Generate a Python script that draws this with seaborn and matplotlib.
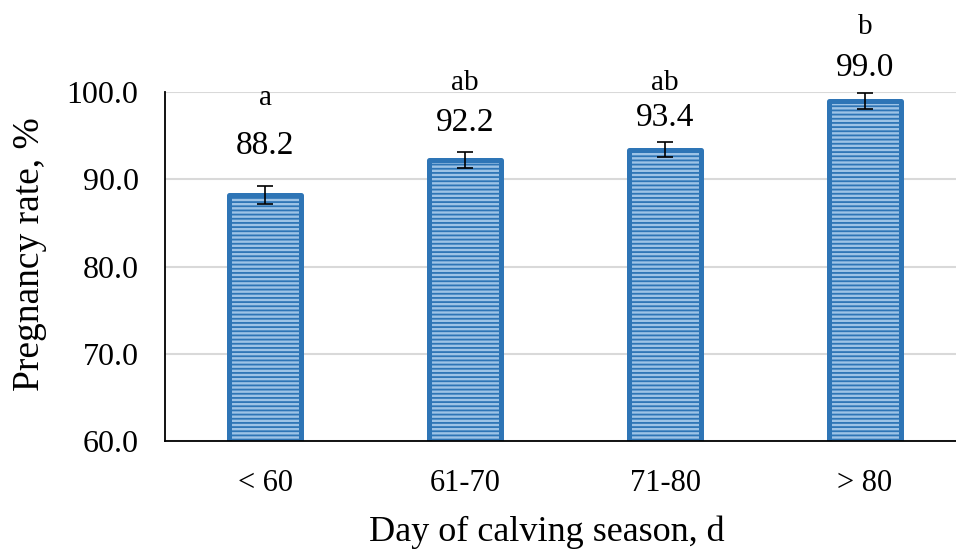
import matplotlib
matplotlib.use("Agg")
import matplotlib.pyplot as plt
import seaborn as sns
import pandas as pd

categories = ["< 60", "61-70", "71-80", "> 80"]
values = [88.2, 92.2, 93.4, 99.0]
errors = [1.0, 0.9, 0.9, 0.9]
letters = ["a", "ab", "ab", "b"]
value_label_y = [93.8, 96.5, 97.1, 102.8]
letter_label_y = [99.3, 101.0, 101.0, 107.4]
yticks = [60, 70, 80, 90, 100]

sns.set_theme(style="white")
plt.rcParams["font.family"] = ["Liberation Serif", "DejaVu Serif"]
plt.rcParams["hatch.linewidth"] = 1.3
plt.rcParams["text.color"] = "black"
plt.rcParams["axes.labelcolor"] = "black"
plt.rcParams["xtick.color"] = "black"
plt.rcParams["ytick.color"] = "black"

df = pd.DataFrame({"cat": categories, "val": values})

fig = plt.figure(figsize=(9.56, 5.51), dpi=100)
ax = fig.add_axes([165/956, 110/551, 800/956, 349/551])

sns.barplot(data=df, x="cat", y="val", ax=ax, color="#9DC3E6",
            width=0.36, errorbar=None, saturation=1)
for p in ax.patches:
    p.set_edgecolor("#2E75B6")
    p.set_linewidth(3.6)
    p.set_hatch("----")
    p.set_joinstyle("round")
    p.set_zorder(2)

ax.errorbar(range(len(values)), values, yerr=errors, fmt="none",
            ecolor="black", elinewidth=1.2, capsize=6, capthick=1.2, zorder=3)

for i, (v, ly, lt, lty) in enumerate(zip(values, value_label_y, letters, letter_label_y)):
    ax.text(i, ly, f"{v:.1f}", ha="center", va="center", fontsize=24, clip_on=False)
    ax.text(i, lty, lt, ha="center", va="center", fontsize=21, clip_on=False)

ax.set_ylim(60, 100)
ax.set_xlim(-0.5, 3.5)
ax.set_yticks(yticks)
ax.set_yticklabels([f"{t:.1f}" for t in yticks], fontsize=23)
ax.tick_params(axis="x", labelsize=22, pad=20, length=0)
ax.tick_params(axis="y", length=0, pad=19)
ax.yaxis.grid(True, color="#D9D9D9", linewidth=1.5)
ax.set_axisbelow(True)
for s in ["top", "right"]:
    ax.spines[s].set_visible(False)
for s in ["left", "bottom"]:
    ax.spines[s].set_color("black")
    ax.spines[s].set_linewidth(1.3)
ax.set_xlabel("Day of calving season, d", fontsize=26)
ax.set_ylabel("Pregnancy rate, %", fontsize=27)
ax.xaxis.set_label_coords((547 - 165) / 800, -(532 - 441) / 349)
ax.yaxis.set_label_coords(-(165 - 30) / 800, (441 - 254) / 349)
ax.xaxis.label.set_va("center")
ax.yaxis.label.set_va("center")

fig.savefig("out.png", dpi=100)
